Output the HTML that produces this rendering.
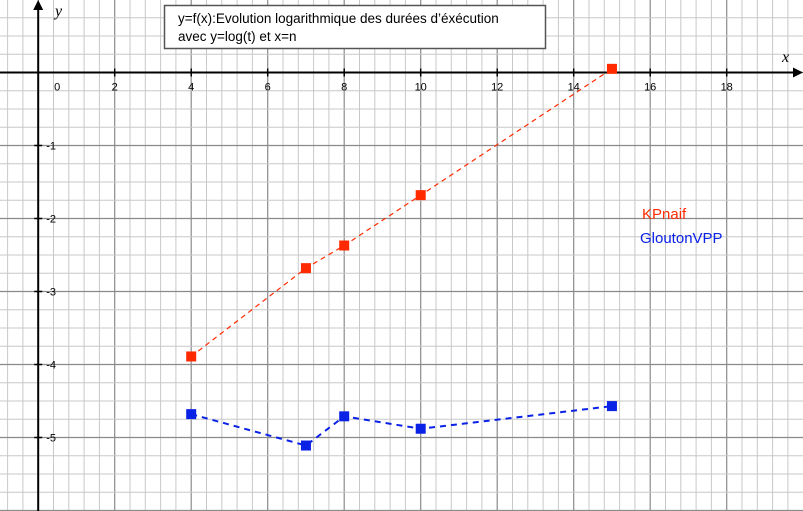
<!DOCTYPE html>
<html><head><meta charset="utf-8"><style>body{margin:0;background:#fff}svg{display:block}</style></head>
<body>
<svg id="c" width="803" height="511" xmlns="http://www.w3.org/2000/svg" font-family="Liberation Sans, sans-serif"></svg>
<script>
const xs=[4,7,8,10,15];
const kpnaif=[-3.89,-2.68,-2.37,-1.68,0.05];
const glouton=[-4.68,-5.11,-4.71,-4.88,-4.57];
const xTicks=[0,2,4,6,8,10,12,14,16,18];
const yTicks=[-1,-2,-3,-4,-5];
const X0=38.2,UX=38.25,Y0=72.5,UY=73;
const sx=v=>X0+v*UX, sy=v=>Y0-v*UY;
const svg=document.getElementById('c');const NS='http://www.w3.org/2000/svg';
function el(t,a,p){const e=document.createElementNS(NS,t);for(const k in a)e.setAttribute(k,a[k]);(p||svg).appendChild(e);return e;}
const grid=el('g',{});
for(let i=-3;i<=52;i++){const x=sx(i*0.4);if(x<0||x>803)continue;const maj=i%5===0;
el('line',{x1:x,y1:0,x2:x,y2:511,stroke:maj?'#8a8a8a':'#c8c8c8','stroke-width':maj?1.2:1},grid);}
for(let j=-4;j<=30;j++){const y=sy(-j*0.25);if(y<0||y>511)continue;const maj=j%4===0;
el('line',{x1:0,y1:y,x2:803,y2:y,stroke:maj?'#8a8a8a':'#c8c8c8','stroke-width':maj?1.2:1},grid);}
const ax=el('g',{});
el('line',{x1:0,y1:Y0,x2:800,y2:Y0,stroke:'#000','stroke-width':2},ax);
el('path',{d:`M803 ${Y0} l-10 -5 l0 10z`,fill:'#000'},ax);
el('line',{x1:X0,y1:511,x2:X0,y2:3,stroke:'#000','stroke-width':2},ax);
el('path',{d:`M${X0} 0 l-5 10 l10 0z`,fill:'#000'},ax);
let t=el('text',{x:782,y:62,'font-family':'Liberation Serif, serif','font-style':'italic','font-size':16},ax);t.textContent='x';
t=el('text',{x:55,y:16,'font-family':'Liberation Serif, serif','font-style':'italic','font-size':16},ax);t.textContent='y';
xTicks.forEach(v=>{const x=sx(v);if(v)el('line',{x1:x,y1:Y0-4,x2:x,y2:Y0+4,stroke:'#000','stroke-width':1.5},ax);
const tx=el('text',{x:v?x:x+19,y:Y0+18,'font-size':11,'text-anchor':'middle'},ax);tx.textContent=v;});
yTicks.forEach(v=>{const y=sy(v);el('line',{x1:X0-4,y1:y,x2:X0+4,y2:y,stroke:'#000','stroke-width':1.5},ax);
const tx=el('text',{x:X0+8,y:y+4,'font-size':11},ax);tx.textContent=v;});
function series(vals,col,name,dash,w){const g=el('g',{});
el('polyline',{points:xs.map((x,i)=>sx(x)+','+sy(vals[i])).join(' '),fill:'none',stroke:col,'stroke-width':w,'stroke-dasharray':dash},g);
xs.forEach((x,i)=>{const r=el('rect',{x:sx(x)-5,y:sy(vals[i])-5,width:10,height:10,fill:col},g);});}
series(kpnaif,'#ff2a00','series-kpnaif','5 4',1.2);
series(glouton,'#0a22e6','series-gloutonvpp','6 5',2);
const tb=el('g',{});
el('rect',{x:164.5,y:5.5,width:381,height:43,fill:'#fff',stroke:'#555','stroke-width':1.5},tb);
t=el('text',{x:178,y:23,'font-size':13.5},tb);t.textContent='y=f(x):Evolution logarithmique des durées d’éxécution';
t=el('text',{x:178,y:41,'font-size':13.5},tb);t.textContent='avec y=log(t) et x=n';
t=el('text',{x:642,y:219,'font-size':15,fill:'#ff2a00'});t.textContent='KPnaif';
t=el('text',{x:640,y:243,'font-size':15,fill:'#0a22e6'});t.textContent='GloutonVPP';
</script>
</body></html>
